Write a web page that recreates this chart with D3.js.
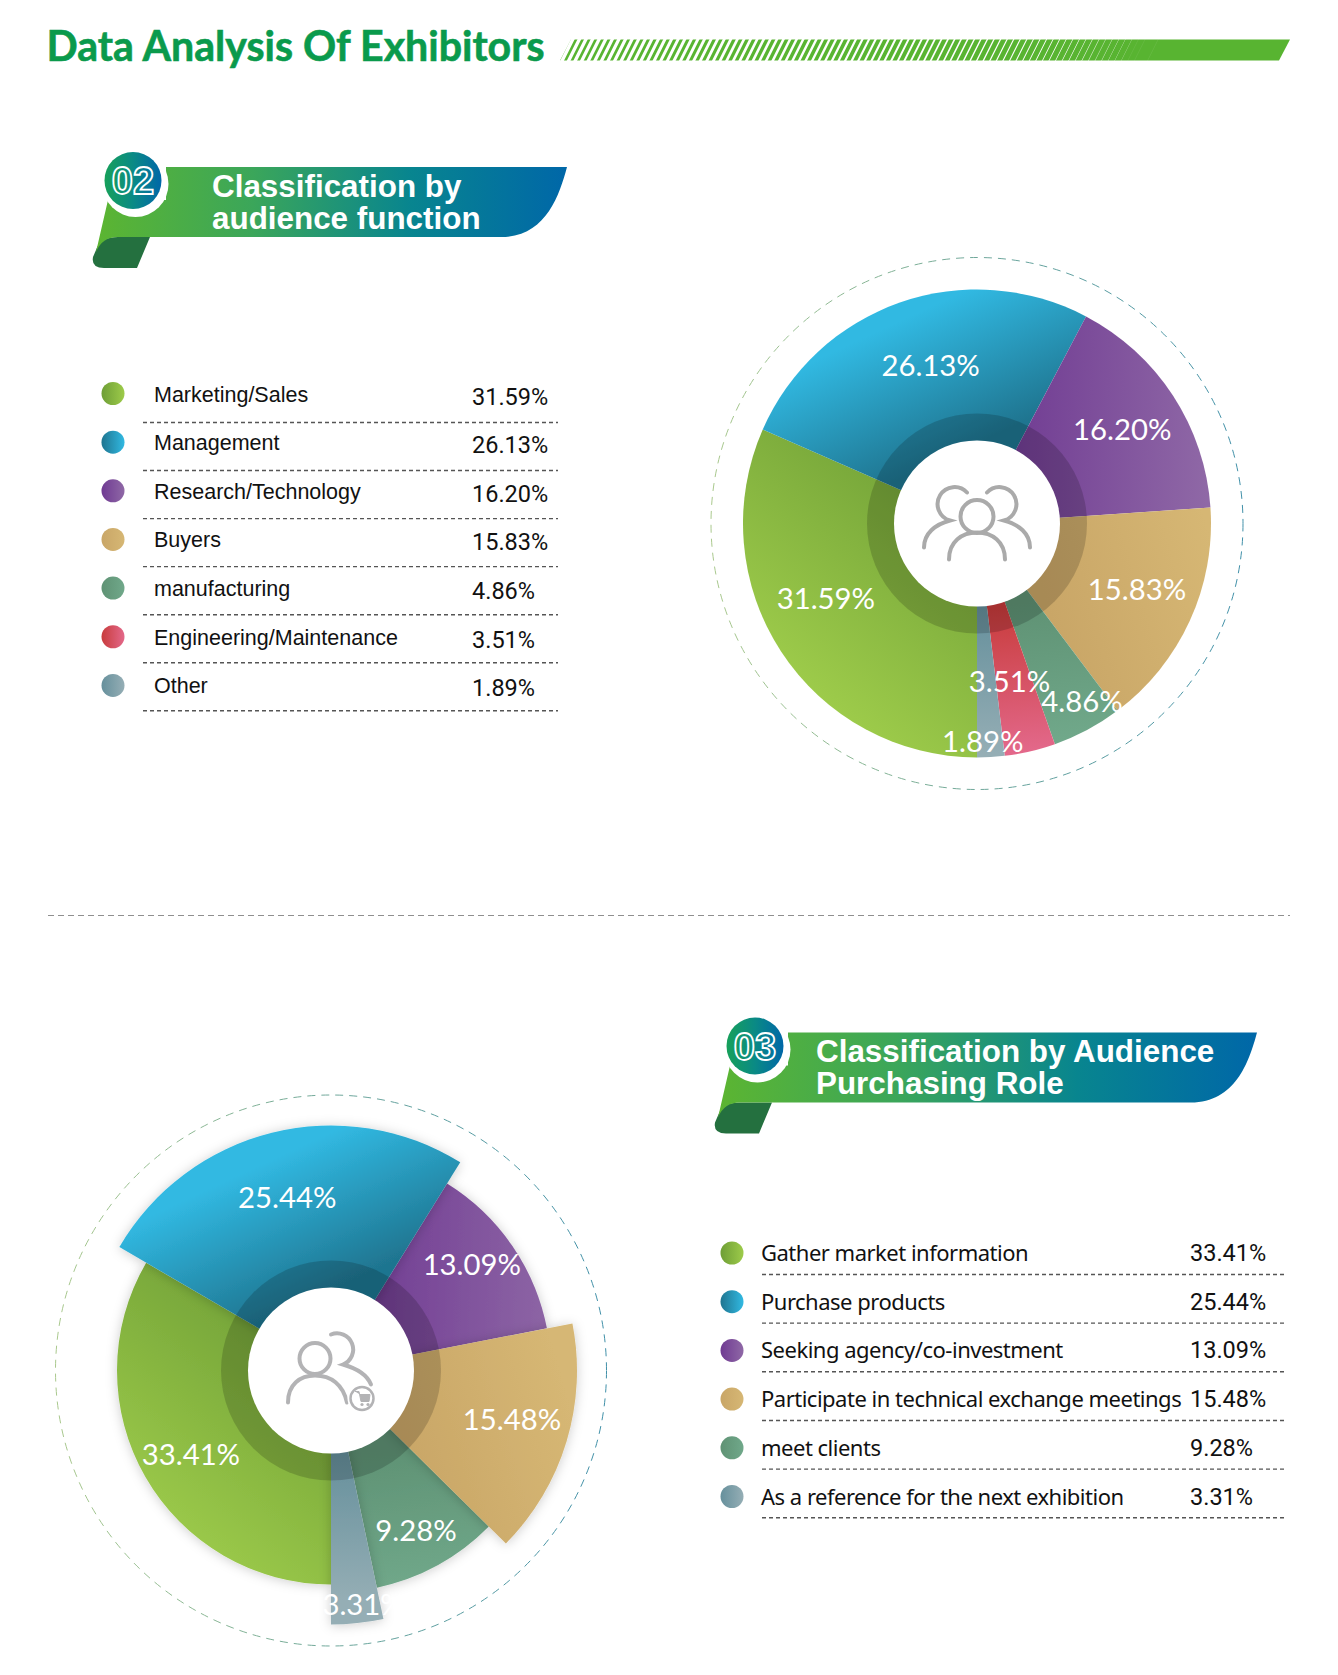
<!DOCTYPE html>
<html>
<head>
<meta charset="utf-8">
<script src="https://cdn.jsdelivr.net/npm/d3@7"></script>
<style>
  body { margin: 0; background: #fff; }
  svg { display: block; }
</style>
</head>
<body>
<div class="graph"></div>
<script>
var width = 1338;
var height = 1675;

// audience function
var functionLabels = ["Marketing/Sales", "Management", "Research/Technology", "Buyers", "manufacturing", "Engineering/Maintenance", "Other"];
var functionValues = [31.59, 26.13, 16.20, 15.83, 4.86, 3.51, 1.89];
var functionColors = ["green", "blue", "purple", "tan", "teal", "red", "grey"];
var functionNudge = [[-13, -15], [8, -2], [7, -4], [10, -3], [27, 33], [-5, -3], [-4, 53]];

// purchasing role
var roleLabels = ["Gather market information", "Purchase products", "Seeking agency/co-investment", "Participate in technical exchange meetings", "meet clients", "As a reference for the next exhibition"];
var roleValues = [33.41, 25.44, 13.09, 15.48, 9.28, 3.31];
var roleColors = ["green", "blue", "purple", "tan", "teal", "grey"];
var roleRadius = [214, 245, 220, 246, 222, 254];
var roleNudge = [[3, 2], [-4, -13], [5, -12], [23, 1], [6, 15], [15, 70]];

// light end, dark end, gradient vector from the pie centre
var palette = {
  green:  ["#9dcb4a", "#6e9e36", [-150, 180, 20, -30]],
  blue:   ["#31b9e2", "#1f7590", [-50, -215, 10, -85]],
  purple: ["#8f68a6", "#6f3a92", [230, -30, 20, -40]],
  tan:    ["#d6b774", "#c9a667", [230, 0, 60, 50]],
  teal:   ["#70a88a", "#5f9274", [60, 220, 40, 80]],
  red:    ["#e3688a", "#c83c3c", [30, 230, 15, 85]],
  grey:   ["#95aeb5", "#66909c", [0, 230, 0, 85]]
};

var svg = d3.select(".graph").append("svg")
  .attr("width", width)
  .attr("height", height);

var defs = svg.append("defs");

function addGradient(id, stops, vector, units) {
  var g = defs.append("linearGradient")
    .attr("id", id)
    .attr("gradientUnits", units)
    .attr("x1", vector[0]).attr("y1", vector[1])
    .attr("x2", vector[2]).attr("y2", vector[3]);
  stops.forEach(function (s, i) {
    g.append("stop").attr("offset", i / (stops.length - 1)).attr("stop-color", s);
  });
}

Object.keys(palette).forEach(function (k) {
  var p = palette[k];
  addGradient("slice-" + k, [p[0], p[1]], p[2], "userSpaceOnUse");
  addGradient("dot-" + k, [p[1], p[0]], [0, 0, 1, 0], "objectBoundingBox");
});
addGradient("bannerFill", ["#5cb531", "#3ba65a", "#08858f", "#0067a8"], [0, 0, 1, 0], "objectBoundingBox");
addGradient("badgeFill", ["#17a05a", "#0a8a85", "#0067a8"], [0, 0, 1, 0], "objectBoundingBox");
addGradient("ringStroke", ["#a9c88c", "#6fa79a", "#3f8fa8"], [0, 0, 1, 0], "objectBoundingBox");

var shadow = defs.append("filter").attr("id", "sliceShadow")
  .attr("x", "-30%").attr("y", "-30%").attr("width", "160%").attr("height", "160%");
shadow.append("feDropShadow")
  .attr("dx", 0).attr("dy", 1).attr("stdDeviation", 6)
  .attr("flood-color", "#000").attr("flood-opacity", 0.2);

// heading
svg.append("text")
  .attr("x", 46.5).attr("y", 61)
  .attr("font-family", "Lato")
  .attr("font-weight", 700)
  .attr("font-size", 41.1)
  .attr("fill", "#0a9a4c")
  .attr("stroke", "#0a9a4c")
  .attr("stroke-width", 0.6)
  .text("Data Analysis Of Exhibitors");

// striped bar next to the heading
var barTop = 39.5, barBottom = 60.5, barSlant = 11;
svg.append("path")
  .attr("d", "M571," + barTop + "H1290L1279," + barBottom + "H560Z")
  .attr("fill", "#58b431");

var stripeX = d3.range(560, 1150, 6.6);
var gapWidth = d3.scaleLinear().domain([560, 900, 1140]).range([3.8, 2.2, 0]);
svg.append("g").selectAll("path")
  .data(stripeX)
  .join("path")
  .attr("d", function (d) {
    var g = gapWidth(d);
    return "M" + (d + barSlant) + "," + (barTop - 0.5) + "h" + g + "L" + (d + g) + "," + (barBottom + 0.5) + "h" + (-g) + "Z";
  })
  .attr("fill", "#fff");

// ribbon heading of a section
function drawBanner(dx, dy, right, number, lines, textX) {
  var g = svg.append("g").attr("transform", "translate(" + dx + "," + dy + ")");

  g.append("path")
    .attr("d", "M150,237L137,268H104Q91,268 93,257L96,250Q100,237 118,237Z")
    .attr("fill", "#24703f");

  g.append("path")
    .attr("d", "M108,200H166V167H" + right + "C" + (right - 8) + ",197 " + (right - 22) + ",237 " + (right - 66) + ",237H118Q102,237 96,252Z")
    .attr("fill", "url(#bannerFill)");

  g.append("circle").attr("cx", 135.5).attr("cy", 184).attr("r", 33).attr("fill", "#fff");
  g.append("circle").attr("cx", 133).attr("cy", 180.5).attr("r", 28.5).attr("fill", "url(#badgeFill)");

  g.append("text")
    .attr("x", 133).attr("y", 194)
    .attr("text-anchor", "middle")
    .attr("font-family", "Liberation Sans")
    .attr("font-weight", 700)
    .attr("font-size", 38)
    .attr("fill", "none")
    .attr("stroke", "#fff")
    .attr("stroke-width", 1.8)
    .text(number);

  g.selectAll("text.line")
    .data(lines)
    .join("text")
    .attr("class", "line")
    .attr("x", textX)
    .attr("y", function (d, i) { return 196.5 + i * 32; })
    .attr("font-family", "Liberation Sans")
    .attr("font-weight", 700)
    .attr("font-size", 31.4)
    .attr("fill", "#fff")
    .text(function (d) { return d; });
}

drawBanner(0, 0, 567, "02", ["Classification by", "audience function"], 212);
drawBanner(622, 865.5, 635, "03", ["Classification by Audience", "Purchasing Role"], 194);

// divider between the two sections
svg.append("line")
  .attr("x1", 48).attr("x2", 1290)
  .attr("y1", 915.5).attr("y2", 915.5)
  .attr("stroke", "#8f8f8f")
  .attr("stroke-width", 1.2)
  .attr("stroke-dasharray", "6 4");

// donut with its dashed ring, dark inner band and white hub
function drawPie(cx, cy, ringR, values, colors, radii, nudge, useShadow) {
  var g = svg.append("g").attr("transform", "translate(" + cx + "," + cy + ")");

  g.append("circle")
    .attr("r", ringR)
    .attr("fill", "none")
    .attr("stroke", "url(#ringStroke)")
    .attr("stroke-width", 1)
    .attr("stroke-dasharray", "8 6");

  var pie = d3.pie().sort(null).startAngle(Math.PI).endAngle(3 * Math.PI);
  var slices = pie(values);
  var arc = d3.arc().innerRadius(0);
  var labelArc = d3.arc().innerRadius(165).outerRadius(165);

  var order = d3.range(slices.length).sort(function (a, b) { return radii[a] - radii[b]; });

  g.selectAll("path.slice")
    .data(order)
    .join("path")
    .attr("class", "slice")
    .attr("d", function (i) {
      return arc.outerRadius(radii[i])(slices[i]);
    })
    .attr("fill", function (i) { return "url(#slice-" + colors[i] + ")"; })
    .attr("filter", useShadow ? "url(#sliceShadow)" : null);

  g.append("circle").attr("r", 110).attr("fill", "#000").attr("fill-opacity", 0.17);
  g.append("circle").attr("r", 83).attr("fill", "#fff");

  g.selectAll("text.share")
    .data(slices)
    .join("text")
    .attr("class", "share")
    .attr("x", function (d, i) { return labelArc.centroid(d)[0] + nudge[i][0]; })
    .attr("y", function (d, i) { return labelArc.centroid(d)[1] + nudge[i][1] + 10.5; })
    .attr("text-anchor", "middle")
    .attr("font-family", "Lato")
    .attr("font-size", 29.3)
    .attr("fill", "#fff")
    .text(function (d) { return d3.format(".2f")(d.data) + "%"; });

  return g;
}

var iconStyle = function (sel, color) {
  return sel.attr("fill", "none").attr("stroke", color).attr("stroke-width", 4).attr("stroke-linecap", "round");
};

var pieFunction = drawPie(977, 523.5, 266, functionValues, functionColors, functionValues.map(function () { return 234; }), functionNudge, false);
var peopleIcon = pieFunction.append("g");
iconStyle(peopleIcon.append("circle").attr("cx", 0).attr("cy", -7).attr("r", 16.5), "#aaa");
iconStyle(peopleIcon.append("path").attr("d", "M-28,36C-28,18 -15,9 0,9C15,9 28,18 28,36"), "#aaa");
iconStyle(peopleIcon.append("path").attr("d", "M-10,-31A17,17 0 1 0 -27,-3C-42,1 -53,10 -53,24"), "#aaa");
iconStyle(peopleIcon.append("path").attr("d", "M10,-31A17,17 0 1 1 27,-3C42,1 53,10 53,24"), "#aaa");

var pieRole = drawPie(331, 1370.5, 275.5, roleValues, roleColors, roleRadius, roleNudge, true);
var buyerIcon = pieRole.append("g");
iconStyle(buyerIcon.append("circle").attr("cx", -16).attr("cy", -12).attr("r", 15.5), "#b3b3b5");
iconStyle(buyerIcon.append("path").attr("d", "M-43,32C-43,14 -31,5 -16,5C0,5 12,14 16,32"), "#b3b3b5");
iconStyle(buyerIcon.append("path").attr("d", "M0,-36A16,16 0 1 1 12,-6C26,-2 36,4 40,14"), "#b3b3b5");
buyerIcon.append("circle").attr("cx", 31).attr("cy", 28).attr("r", 14.5).attr("fill", "#fff");
iconStyle(buyerIcon.append("circle").attr("cx", 31).attr("cy", 28).attr("r", 11.5), "#b3b3b5").attr("stroke-width", 2.5);
buyerIcon.append("path").attr("d", "M24,21H28L30,31H38L39,24H29").attr("fill", "#b3b3b5").attr("stroke", "#b3b3b5").attr("stroke-width", 1);
buyerIcon.append("circle").attr("cx", 31).attr("cy", 34).attr("r", 1.6).attr("fill", "#b3b3b5");
buyerIcon.append("circle").attr("cx", 37).attr("cy", 34).attr("r", 1.6).attr("fill", "#b3b3b5");

// legend table
function drawLegend(o) {
  var y = d3.scaleLinear().domain([0, 1]).range([o.firstRow, o.firstRow + o.step]);
  var ruleY = d3.scaleLinear().domain([0, 1]).range([o.firstRule, o.firstRule + o.ruleStep]);
  var g = svg.append("g");
  var rows = g.selectAll("g")
    .data(o.labels)
    .join("g")
    .attr("transform", function (d, i) { return "translate(0," + y(i) + ")"; });

  rows.append("circle")
    .attr("cx", o.dotX).attr("r", 11.5)
    .attr("fill", function (d, i) { return "url(#dot-" + o.colors[i] + ")"; });

  rows.append("text")
    .attr("x", o.labelX).attr("y", 8)
    .attr("font-family", o.font)
    .attr("font-size", o.fontSize)
    .attr("letter-spacing", o.spacing)
    .attr("fill", "#111")
    .text(function (d) { return d; });

  rows.append("text")
    .attr("x", o.valueX).attr("y", o.valueY)
    .attr("font-family", "Roboto")
    .attr("font-size", 23.5)
    .attr("fill", "#111")
    .text(function (d, i) { return d3.format(".2f")(o.values[i]) + "%"; });

  g.selectAll("line")
    .data(o.labels)
    .join("line")
    .attr("x1", o.lineX1).attr("x2", o.lineX2)
    .attr("y1", function (d, i) { return ruleY(i); })
    .attr("y2", function (d, i) { return ruleY(i); })
    .attr("stroke", "#555")
    .attr("stroke-width", 1.4)
    .attr("stroke-dasharray", "4 3");
}

drawLegend({
  labels: functionLabels, values: functionValues, colors: functionColors,
  firstRow: 393.5, step: 48.65, dotX: 113, labelX: 154, valueX: 472, valueY: 11,
  lineX1: 143, lineX2: 558, firstRule: 422.5, ruleStep: 48.05, font: "Liberation Sans", fontSize: 21.5, spacing: 0
});

drawLegend({
  labels: roleLabels, values: roleValues, colors: roleColors,
  firstRow: 1253, step: 48.7, dotX: 732, labelX: 761, valueX: 1190, valueY: 8,
  lineX1: 762, lineX2: 1287, firstRule: 1274.5, ruleStep: 48.65, font: "Noto Sans", fontSize: 22, spacing: -0.5
});
</script>
</body>
</html>
